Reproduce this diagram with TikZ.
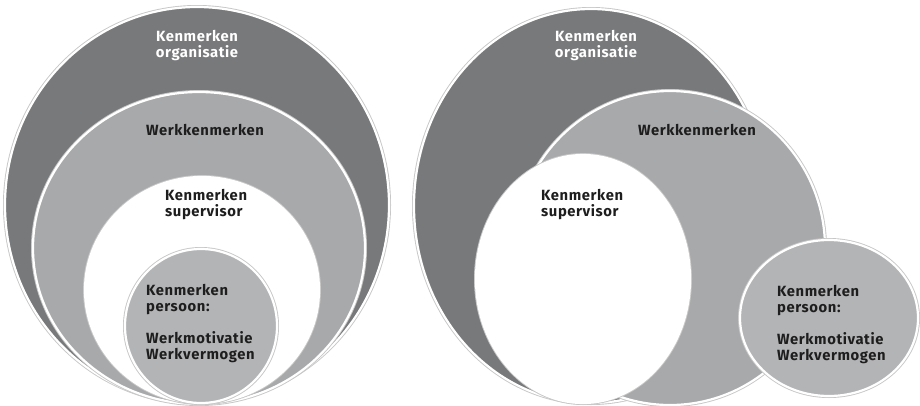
\documentclass[tikz,border=0pt]{standalone}
\usepackage{fontspec}
\setmainfont{Fira Sans}[LetterSpace=4]
\begin{document}
\definecolor{orgGrey}{HTML}{78797B}
\definecolor{workGrey}{HTML}{A8A9AB}
\definecolor{personGrey}{HTML}{B3B4B6}
\definecolor{inkDark}{HTML}{1E1E1E}
\pgfdeclareradialshading{softwhite}{\pgfpoint{0bp}{0bp}}{color(0bp)=(white); color(34bp)=(white); color(50bp)=(black!8)}
\begin{tikzpicture}[x=1pt,y=-1pt,
  disc/.style={line width=2.2pt, draw=white,
    preaction={draw=black!22, line width=4pt}},
  label/.style={font=\fontsize{14.8}{16}\bfseries\selectfont, text=inkDark, inner sep=0pt},
  toplabel/.style={label, text=white, align=center},
  leftlabel/.style={label, align=left, anchor=west}]
\useasboundingbox (0,0) rectangle (920,405);

% nested circles
\fill[orgGrey, disc] (197,205) ellipse [x radius=192pt, y radius=198pt];
\fill[workGrey, disc] (199,248) ellipse [x radius=166pt, y radius=156pt];
\fill[disc, shading=softwhite] (202,290) ellipse [x radius=117pt, y radius=113pt];
\fill[personGrey, disc] (201,326) ellipse [x radius=76pt, y radius=77pt];

\node[toplabel] (orgA) at (197,46) {Kenmerken\\organisatie};
\node[label] (workA) at (205,130) {Werkkenmerken};
\node[leftlabel] (supA) at (165,205) {Kenmerken\\supervisor};
\node[leftlabel] (persA) at (146,324) {Kenmerken\\persoon:\\[16pt]Werkmotivatie\\Werkvermogen};

% overlapping circles
\fill[orgGrey, disc] (591,206) ellipse [x radius=177pt, y radius=197pt];
\fill[workGrey, disc] (670,248) ellipse [x radius=155pt, y radius=157pt];
\fill[disc, shading=softwhite] (583,279) ellipse [x radius=107pt, y radius=124pt];
\fill[personGrey, disc] (829,318) ellipse [x radius=89pt, y radius=78pt];

\node[toplabel] (orgB) at (596,46) {Kenmerken\\organisatie};
\node[label] (workB) at (697,130) {Werkkenmerken};
\node[leftlabel] (supB) at (541,205) {Kenmerken\\supervisor};
\node[leftlabel] (persB) at (777,325) {Kenmerken\\persoon:\\[16pt]Werkmotivatie\\Werkvermogen};
\end{tikzpicture}
\end{document}
